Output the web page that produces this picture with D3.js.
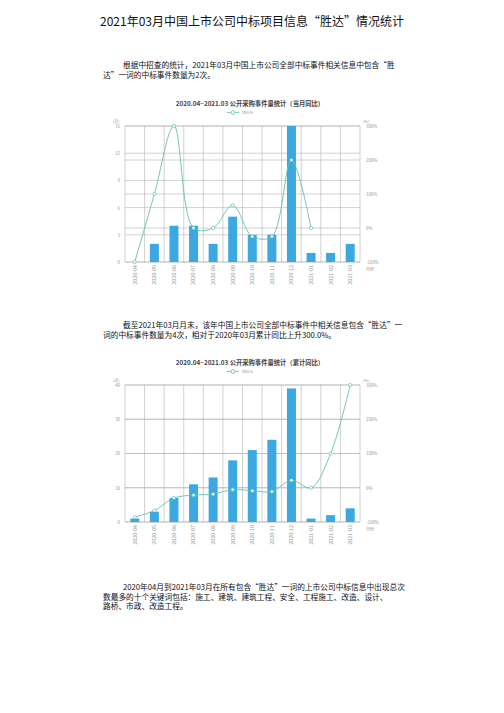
<!DOCTYPE html>
<html lang="zh">
<head>
<meta charset="utf-8">
<title>胜达 中标统计</title>
<script src="https://cdn.jsdelivr.net/npm/d3@7"></script>
<style>
  body { margin: 0; background: #fff; font-family: "Noto Sans CJK SC", "Liberation Sans", sans-serif; }
  svg text { font-family: "Noto Sans CJK SC", "Liberation Sans", sans-serif; }
</style>
</head>
<body>
<script>
// months on the x axis
var months = ["2020-04","2020-05","2020-06","2020-07","2020-08","2020-09","2020-10","2020-11","2020-12","2021-01","2021-02","2021-03"];

// chart 1: monthly count + year on year %
var monthCount = [0, 2, 4, 4, 2, 5, 3, 3, 15, 1, 1, 2];
var monthYoy = [-100, 100, 300, 0, 0, 66.7, -25, -25, 200, 0, null, null];

// chart 2: cumulative count + cumulative year on year %
var cumCount = [1, 3, 7, 11, 13, 18, 21, 24, 39, 1, 2, 4];
var cumYoy = [-85.7, -66.7, -30, -21.4, -18.8, -5.3, -8.7, -11.1, 21.9, 0, 100, 300];

var leftTicks1 = [0, 3, 6, 9, 12, 15];
var leftTicks2 = [0, 10, 20, 30, 40];
var rightTicks = [-100, 0, 100, 200, 300];

var W = 504, H = 713;
var svg = d3.select("body").append("svg").attr("width", W).attr("height", H);

var barColor = "#3ba9e0", lineColor = "#63c2aa", gridColor = "#b4b4b4", labelColor = "#999";

// page title
svg.append("text").attr("x", 252).attr("y", 26).attr("text-anchor", "middle")
  .attr("font-size", 12).attr("fill", "#111")
  .text("2021年03月中国上市公司中标项目信息“胜达”情况统计");

function para(lines, y0) {
  lines.forEach(function(l, i) {
    svg.append("text").attr("x", l[0]).attr("y", y0 + i * 9.7)
      .attr("font-size", 7.7).attr("fill", "#111").text(l[1]);
  });
}

para([[123, "根据中招查的统计，2021年03月中国上市公司全部中标事件相关信息中包含“胜"],
      [103, "达”一词的中标事件数量为2次。"]], 68);
para([[123, "截至2021年03月月末，该年中国上市公司全部中标事件中相关信息包含“胜达”一"],
      [103, "词的中标事件数量为4次，相对于2020年03月累计同比上升300.0%。"]], 328);
para([[123, "2020年04月到2021年03月在所有包含“胜达”一词的上市公司中标信息中出现总次"],
      [103, "数最多的十个关键词包括：施工、建筑、建筑工程、安全、工程施工、改造、设计、"],
      [103, "路桥、市政、改造工程。"]], 590);

function drawChart(opt) {
  var g = svg.append("g");
  var x0 = 125, x1 = 360, yTop = opt.top, yBot = opt.bottom;
  var x = d3.scaleBand().domain(months).range([x0, x1]);
  var yL = d3.scaleLinear().domain([0, opt.leftMax]).range([yBot, yTop]);
  var yR = d3.scaleLinear().domain([-100, 300]).range([yBot, yTop]);

  // title and legend
  g.append("text").attr("x", 250).attr("y", yTop - 20).attr("text-anchor", "middle")
    .attr("font-size", 6.3).attr("font-weight", "bold").attr("fill", "#444").text(opt.title);
  g.append("line").attr("x1", 227).attr("x2", 239).attr("y1", yTop - 13.5).attr("y2", yTop - 13.5)
    .attr("stroke", lineColor).attr("stroke-width", 0.8);
  g.append("circle").attr("cx", 233).attr("cy", yTop - 13.5).attr("r", 2)
    .attr("fill", "#fff").attr("stroke", lineColor).attr("stroke-width", 0.8);
  g.append("text").attr("x", 242).attr("y", yTop - 11.7).attr("font-size", 3.8)
    .attr("fill", labelColor).text("同比%");

  // grid: vertical
  x.domain().concat(["__end"]).forEach(function(m, i) {
    var xx = i < months.length ? x(m) : x1;
    g.append("line").attr("x1", xx).attr("x2", xx).attr("y1", yTop).attr("y2", yBot)
      .attr("stroke", gridColor).attr("stroke-width", 0.6);
  });
  // grid: horizontal, left and right scale
  opt.leftTicks.forEach(function(t) {
    g.append("line").attr("x1", x0).attr("x2", x1).attr("y1", yL(t)).attr("y2", yL(t))
      .attr("stroke", gridColor).attr("stroke-width", 0.6);
  });
  rightTicks.forEach(function(t) {
    g.append("line").attr("x1", x0).attr("x2", x1).attr("y1", yR(t)).attr("y2", yR(t))
      .attr("stroke", gridColor).attr("stroke-width", 0.6);
  });

  // axes
  var axL = d3.axisLeft(yL).tickValues(opt.leftTicks).tickSize(0).tickPadding(5);
  var gl = g.append("g").attr("transform", "translate(" + x0 + ",0)").call(axL);
  var axR = d3.axisRight(yR).tickValues(rightTicks).tickSize(0).tickPadding(6)
    .tickFormat(function(d) { return d + "%"; });
  var gr = g.append("g").attr("transform", "translate(" + x1 + ",0)").call(axR);
  var axB = d3.axisBottom(x).tickSize(0).tickPadding(3);
  var gb = g.append("g").attr("transform", "translate(0," + yBot + ")").call(axB);
  [gl, gr, gb].forEach(function(a) {
    a.select(".domain").remove();
    a.selectAll("text").attr("font-size", 4.4).attr("fill", labelColor);
  });
  gb.selectAll("text").attr("transform", "rotate(-90)").attr("text-anchor", "end")
    .attr("x", -3).attr("y", 0).attr("dy", "0.35em").attr("font-size", 5.4);

  g.append("text").attr("x", 113).attr("y", yTop - 3).attr("font-size", 4).attr("fill", labelColor).text("(次)");
  g.append("text").attr("x", 363).attr("y", yTop - 3).attr("font-size", 4).attr("fill", labelColor).text("(%)");
  g.append("text").attr("x", 366).attr("y", yBot + 9).attr("font-size", 4).attr("fill", labelColor).text("月份");

  // bars
  var bw = 9;
  g.selectAll(".bar").data(opt.bars).enter().append("rect")
    .attr("x", function(d, i) { return x(months[i]) + x.bandwidth() / 2 - bw / 2; })
    .attr("y", function(d) { return yL(d); })
    .attr("width", bw)
    .attr("height", function(d) { return yBot - yL(d); })
    .attr("fill", barColor);

  // smooth line
  var pts = opt.line.map(function(v, i) { return {m: months[i], v: v}; });
  var line = d3.line()
    .defined(function(d) { return d.v !== null; })
    .x(function(d) { return x(d.m) + x.bandwidth() / 2; })
    .y(function(d) { return yR(d.v); })
    .curve(d3.curveCatmullRom.alpha(0.5));
  g.append("path").datum(pts).attr("d", line).attr("fill", "none")
    .attr("stroke", lineColor).attr("stroke-width", 0.9);
  g.selectAll(".pt").data(pts.filter(function(d) { return d.v !== null; })).enter().append("circle")
    .attr("cx", function(d) { return x(d.m) + x.bandwidth() / 2; })
    .attr("cy", function(d) { return yR(d.v); })
    .attr("r", 1.6).attr("fill", "#fff").attr("stroke", lineColor).attr("stroke-width", 0.7);
}

drawChart({title: "2020.04~2021.03 公开采购事件量统计（当月同比）", top: 126, bottom: 262,
  leftMax: 15, leftTicks: leftTicks1, bars: monthCount, line: monthYoy});
drawChart({title: "2020.04~2021.03 公开采购事件量统计（累计同比）", top: 385, bottom: 522,
  leftMax: 40, leftTicks: leftTicks2, bars: cumCount, line: cumYoy});
</script>
</body>
</html>
